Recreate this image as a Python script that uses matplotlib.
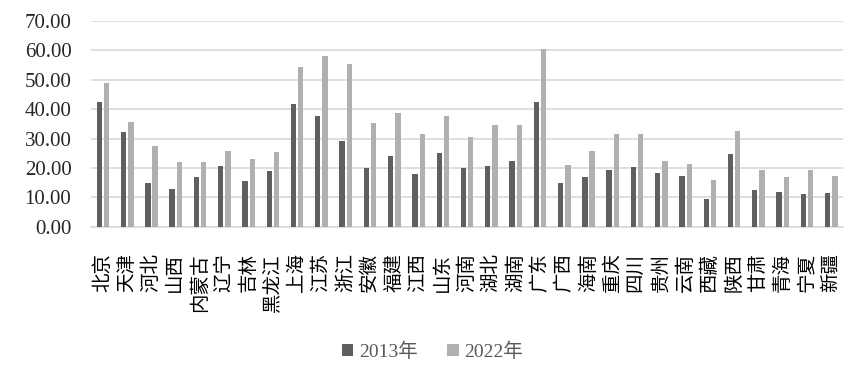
import matplotlib
matplotlib.use("Agg")
import matplotlib.pyplot as plt
import numpy as np

plt.rcParams['font.family'] = ['Liberation Serif', 'Noto Sans CJK SC', 'DejaVu Sans']

# provinces and the two years' values
provinces = ['北京', '天津', '河北', '山西', '内蒙古', '辽宁', '吉林', '黑龙江', '上海', '江苏',
             '浙江', '安徽', '福建', '江西', '山东', '河南', '湖北', '湖南', '广东', '广西',
             '海南', '重庆', '四川', '贵州', '云南', '西藏', '陕西', '甘肃', '青海', '宁夏', '新疆']
v2013 = [42.6, 32.1, 14.9, 12.9, 16.9, 20.6, 15.6, 18.9, 41.9, 37.8,
         29.1, 20.0, 24.0, 17.9, 25.0, 20.0, 20.6, 22.3, 42.6, 14.9,
         16.9, 19.3, 20.3, 18.3, 17.2, 9.5, 24.7, 12.5, 11.8, 11.2, 11.5]
v2022 = [49.0, 35.7, 27.4, 22.0, 22.0, 25.7, 23.0, 25.4, 54.4, 58.2,
         55.5, 35.4, 38.8, 31.5, 37.8, 30.4, 34.7, 34.7, 60.5, 21.0,
         25.7, 31.5, 31.5, 22.3, 21.3, 15.9, 32.5, 19.3, 16.9, 19.3, 17.2]
series_names = ['2013年', '2022年']

fig = plt.figure(figsize=(8.65, 3.8), dpi=100)
ax = fig.add_axes([0.105, 0.403, 0.87, 0.542])

x = np.arange(len(provinces))
w = 0.22
ax.bar(x - 0.15, v2013, width=w, color='#5f5f5f', label=series_names[0], zorder=3)
ax.bar(x + 0.15, v2022, width=w, color='#b0b0b0', label=series_names[1], zorder=3)

ax.set_xlim(-0.5, len(provinces) - 0.5)
ax.set_ylim(0, 70)
ax.set_yticks(np.arange(0, 71, 10))
ax.set_yticklabels(['%.2f' % v for v in np.arange(0, 71, 10)], fontsize=15, color='#262626')
ax.set_xticks(x)
ax.set_xticklabels(provinces, rotation=90, fontsize=14, color='black')
ax.tick_params(axis='x', length=0, pad=19)
ax.tick_params(axis='y', length=0, pad=14)

ax.grid(axis='y', color='#d9d9d9', linewidth=1.2, zorder=0)
for s in ['top', 'right', 'left']:
    ax.spines[s].set_visible(False)
ax.spines['bottom'].set_color('#d9d9d9')
ax.spines['bottom'].set_linewidth(1.2)

leg = fig.legend(loc='center', bbox_to_anchor=(0.5, 0.075), ncol=2, frameon=False,
                 fontsize=14, handlelength=0.6, handleheight=0.6, handletextpad=0.3,
                 columnspacing=1.5)
for t in leg.get_texts():
    t.set_color('#595959')

fig.savefig('out.png', dpi=100)
